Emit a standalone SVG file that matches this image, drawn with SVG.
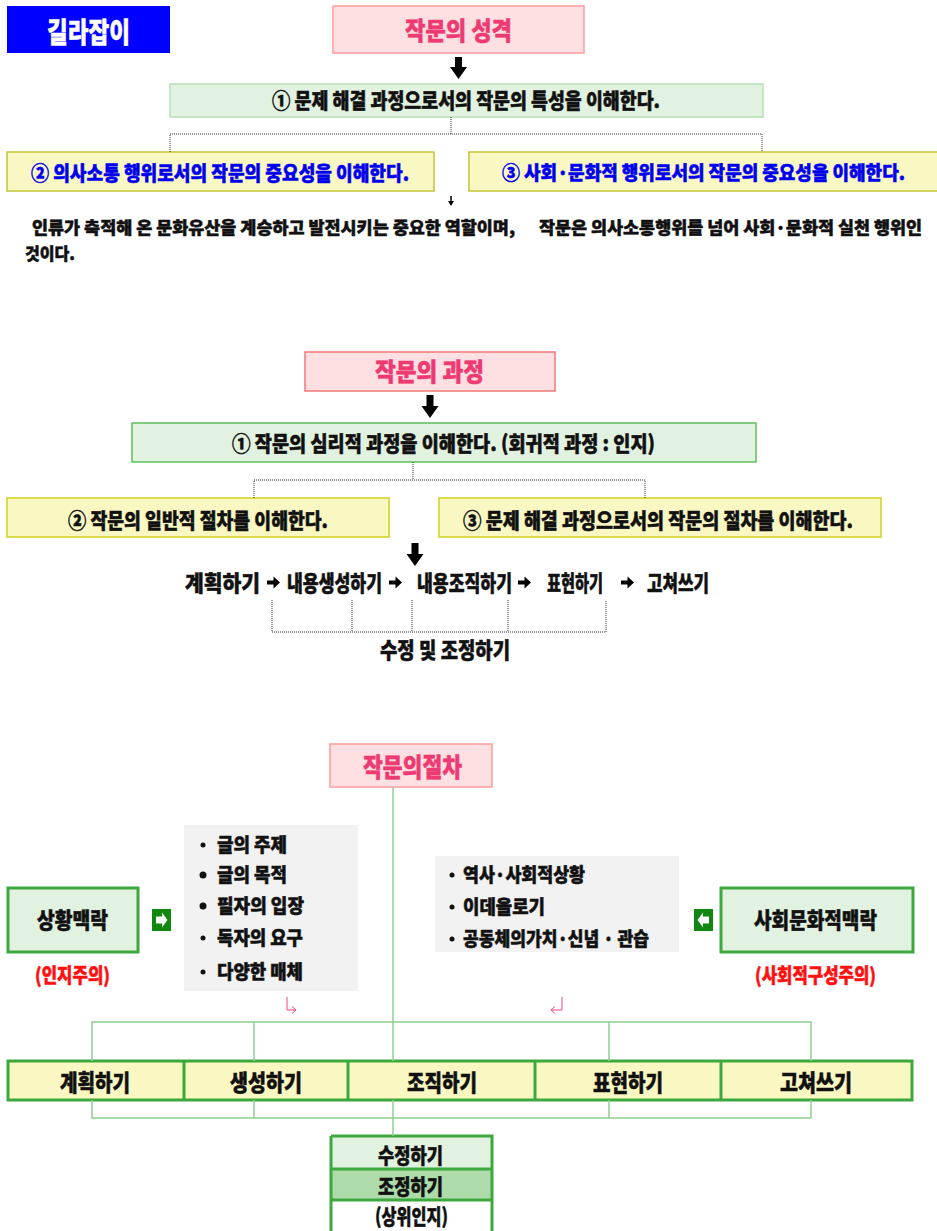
<svg xmlns="http://www.w3.org/2000/svg" width="937" height="1231" viewBox="0 0 937 1231">
<defs>
<style>
text{font-family:'Noto Sans CJK KR','Noto Sans',sans-serif;font-weight:900;fill:#111;stroke:#111;stroke-width:0.5}
.pk{fill:#EE3A72;stroke:#EE3A72}
.bl{fill:#0000EE;stroke:#0000EE}
.rd{fill:#FF1010;stroke:#FF1010}
.wh{fill:#fff;stroke:#fff}
.hdr{fill:#FFE0E2;stroke:#FF9C9C;stroke-width:1.5}
.hdr2{fill:#FFE0E2;stroke:#F07878;stroke-width:1.5}
.gbox1{fill:#E2F2E0;stroke:#B5E0B5;stroke-width:1.5}
.gbox2{fill:#E2F2E0;stroke:#5CBF5C;stroke-width:1.5}
.ybox1{fill:#FAF8C2;stroke:#C4C43A;stroke-width:1.5}
.ybox2{fill:#FAF8C2;stroke:#D2D21E;stroke-width:1.5}
.gthick{stroke:#3DA83D;stroke-width:3}
.dot{fill:none;stroke:#333;stroke-width:1;stroke-dasharray:1 1}
.gl{fill:none;stroke:#8FD08F;stroke-width:1.5}
.pkl{fill:none;stroke:#FF4080;stroke-width:1}
.gray{fill:#F2F2F2}
</style>
</defs>

<g id="guide">
<rect x="7" y="6" width="163" height="47" fill="#0000FF"/>
<text class="wh" x="47" y="43" font-size="28" textLength="83" lengthAdjust="spacingAndGlyphs">길라잡이</text>
</g>

<g id="nature-title">
<rect class="hdr" x="333" y="6" width="251" height="47"/>
<text class="pk" x="405" y="40" font-size="25" textLength="107" lengthAdjust="spacingAndGlyphs">작문의 성격</text>
</g>
<g id="nature-1">
<rect class="gbox1" x="170" y="84" width="593" height="33"/>
<text x="272" y="108" font-size="21" textLength="388" lengthAdjust="spacingAndGlyphs">① 문제 해결 과정으로서의 작문의 특성을 이해한다.</text>
</g>
<g id="nature-2">
<rect class="ybox1" x="7" y="152" width="427" height="39"/>
<text class="bl" x="31" y="181" font-size="20" textLength="378" lengthAdjust="spacingAndGlyphs">② 의사소통 행위로서의 작문의 중요성을 이해한다.</text>
</g>
<g id="nature-3">
<rect class="ybox1" x="469" y="152" width="480" height="39"/>
<text class="bl" x="502" y="180" font-size="19" textLength="403" lengthAdjust="spacingAndGlyphs">③ 사회·문화적 행위로서의 작문의 중요성을 이해한다.</text>
</g>
<g id="nature-text">
<text x="32" y="234" font-size="17" textLength="483" lengthAdjust="spacingAndGlyphs">인류가 축적해 온 문화유산을 계승하고 발전시키는 중요한 역할이며,</text>
<text x="539" y="234" font-size="17" textLength="383" lengthAdjust="spacingAndGlyphs">작문은 의사소통행위를 넘어 사회·문화적 실천 행위인</text>
<text x="25" y="260" font-size="17" textLength="50" lengthAdjust="spacingAndGlyphs">것이다.</text>
</g>

<g id="process-title">
<rect class="hdr2" x="305" y="352" width="250" height="39"/>
<text class="pk" x="375" y="381" font-size="25" textLength="109" lengthAdjust="spacingAndGlyphs">작문의 과정</text>
</g>
<g id="process-1">
<rect class="gbox2" x="132" y="423" width="624" height="39"/>
<text x="232" y="451" font-size="21" textLength="423" lengthAdjust="spacingAndGlyphs">① 작문의 심리적 과정을 이해한다. (회귀적 과정 : 인지)</text>
</g>
<g id="process-2">
<rect class="ybox2" x="7" y="498" width="382" height="39"/>
<text x="68" y="528" font-size="21" textLength="260" lengthAdjust="spacingAndGlyphs">② 작문의 일반적 절차를 이해한다.</text>
</g>
<g id="process-3">
<rect class="ybox2" x="439" y="498" width="442" height="39"/>
<text x="463" y="528" font-size="21" textLength="390" lengthAdjust="spacingAndGlyphs">③ 문제 해결 과정으로서의 작문의 절차를 이해한다.</text>
</g>
<g id="process-steps">
<text x="185" y="591" font-size="22" textLength="75" lengthAdjust="spacingAndGlyphs">계획하기</text>
<text x="287" y="591" font-size="22" textLength="95" lengthAdjust="spacingAndGlyphs">내용생성하기</text>
<text x="417" y="591" font-size="22" textLength="95" lengthAdjust="spacingAndGlyphs">내용조직하기</text>
<text x="547" y="591" font-size="22" textLength="56" lengthAdjust="spacingAndGlyphs">표현하기</text>
<text x="647" y="591" font-size="22" textLength="62" lengthAdjust="spacingAndGlyphs">고쳐쓰기</text>
</g>
<g id="process-revise">
<text x="380" y="658" font-size="22" textLength="130" lengthAdjust="spacingAndGlyphs">수정 및 조정하기</text>
</g>

<g id="procedure-title">
<rect class="hdr" x="330" y="744" width="162" height="43"/>
<text class="pk" x="363" y="777" font-size="26" textLength="99" lengthAdjust="spacingAndGlyphs">작문의절차</text>
</g>
<g id="situation">
<rect x="8" y="888" width="130" height="64" fill="#E2F2E0" class="gthick"/>
<text x="37" y="928" font-size="22" textLength="71" lengthAdjust="spacingAndGlyphs">상황맥락</text>
<text class="rd" x="35" y="983" font-size="20" textLength="75" lengthAdjust="spacingAndGlyphs">(인지주의)</text>
</g>
<g id="situation-list">
<rect class="gray" x="184" y="825" width="174" height="166"/>
<circle cx="203" cy="845" r="2.5" fill="#111"/>
<circle cx="203" cy="875" r="3.5" fill="#111"/>
<circle cx="203" cy="906" r="3.5" fill="#111"/>
<circle cx="203" cy="938" r="2.5" fill="#111"/>
<circle cx="203" cy="972" r="2.5" fill="#111"/>
<text x="217" y="852" font-size="19" textLength="70" lengthAdjust="spacingAndGlyphs">글의 주제</text>
<text x="217" y="882" font-size="19" textLength="70" lengthAdjust="spacingAndGlyphs">글의 목적</text>
<text x="217" y="913" font-size="19" textLength="87" lengthAdjust="spacingAndGlyphs">필자의 입장</text>
<text x="217" y="945" font-size="19" textLength="86" lengthAdjust="spacingAndGlyphs">독자의 요구</text>
<text x="217" y="979" font-size="19" textLength="86" lengthAdjust="spacingAndGlyphs">다양한 매체</text>
</g>
<g id="social-list">
<rect class="gray" x="435" y="856" width="244" height="96"/>
<circle cx="452" cy="875" r="2.5" fill="#111"/>
<circle cx="452" cy="907" r="2.5" fill="#111"/>
<circle cx="452" cy="939" r="2.5" fill="#111"/>
<text x="463" y="882" font-size="19" textLength="122" lengthAdjust="spacingAndGlyphs">역사·사회적상황</text>
<text x="463" y="914" font-size="19" textLength="82" lengthAdjust="spacingAndGlyphs">이데올로기</text>
<text x="463" y="946" font-size="19" textLength="186" lengthAdjust="spacingAndGlyphs">공동체의가치·신념 · 관습</text>
</g>
<g id="social">
<rect x="721" y="888" width="192" height="64" fill="#E2F2E0" class="gthick"/>
<text x="754" y="928" font-size="22" textLength="123" lengthAdjust="spacingAndGlyphs">사회문화적맥락</text>
<text class="rd" x="755" y="983" font-size="20" textLength="121" lengthAdjust="spacingAndGlyphs">(사회적구성주의)</text>
</g>
<g id="stages">
<rect x="8" y="1061" width="904" height="39" fill="#FAF8C2" class="gthick"/>
<line x1="184" y1="1061" x2="184" y2="1100" class="gthick"/>
<line x1="348" y1="1061" x2="348" y2="1100" class="gthick"/>
<line x1="535" y1="1061" x2="535" y2="1100" class="gthick"/>
<line x1="721" y1="1061" x2="721" y2="1100" class="gthick"/>
<text x="60" y="1091" font-size="23" textLength="70" lengthAdjust="spacingAndGlyphs">계획하기</text>
<text x="230" y="1091" font-size="23" textLength="72" lengthAdjust="spacingAndGlyphs">생성하기</text>
<text x="407" y="1091" font-size="23" textLength="70" lengthAdjust="spacingAndGlyphs">조직하기</text>
<text x="593" y="1091" font-size="23" textLength="70" lengthAdjust="spacingAndGlyphs">표현하기</text>
<text x="780" y="1091" font-size="23" textLength="72" lengthAdjust="spacingAndGlyphs">고쳐쓰기</text>
</g>
<g id="metacognition">
<rect x="331" y="1136" width="161" height="33" fill="#E2F2E0"/>
<rect x="331" y="1169" width="161" height="31" fill="#ADDBAA"/>
<rect x="331" y="1200" width="161" height="31" fill="#fff"/>
<path d="M331 1136H492V1233M331 1136V1233M331 1169H492M331 1200H492" fill="none" class="gthick"/>
<text x="378" y="1163" font-size="21" textLength="65" lengthAdjust="spacingAndGlyphs">수정하기</text>
<text x="378" y="1194" font-size="21" textLength="65" lengthAdjust="spacingAndGlyphs">조정하기</text>
<text x="375" y="1224" font-size="21" textLength="73" lengthAdjust="spacingAndGlyphs">(상위인지)</text>
</g>

<g id="connectors">
<path d="M455 57h7v10h5l-8.5 12l-8.5-12h5z" fill="#000"/>
<path d="M451 117V134M170 152V134H762V152" class="dot"/>
<path d="M451 196v6" stroke="#000" stroke-width="1.5"/>
<path d="M448 201h6l-3 5z" fill="#000"/>
<path d="M426.5 395h7v11h5l-8.5 12l-8.5-12h5z" fill="#000"/>
<path d="M413 462V480M254 498V480H645V498" class="dot"/>
<path d="M411.5 543h7v11h5l-8.5 12l-8.5-12h5z" fill="#000"/>
<path d="M267 580.5h6.5v-4l6.5 6l-6.5 6v-4h-6.5z" fill="#000"/>
<path d="M389 580.5h6.5v-4l6.5 6l-6.5 6v-4h-6.5z" fill="#000"/>
<path d="M518 580.5h6.5v-4l6.5 6l-6.5 6v-4h-6.5z" fill="#000"/>
<path d="M621 580.5h6.5v-4l6.5 6l-6.5 6v-4h-6.5z" fill="#000"/>
<path d="M272 600V632H606V600M352 600V632M412 600V632M508 600V632" class="dot"/>
<line x1="393" y1="787" x2="393" y2="1061" class="gl"/>
<line x1="393" y1="1100" x2="393" y2="1136" class="gl"/>
<path d="M92 1061V1022H811V1061M254 1022V1061M609 1022V1061" class="gl"/>
<path d="M92 1100V1118H811V1100M254 1100V1118M609 1100V1118" class="gl"/>
<rect x="152" y="909" width="19" height="22" fill="#108810"/>
<path d="M156 916.5h6v-4l5.5 7.5l-5.5 7.5v-4h-6z" fill="#fff"/>
<rect x="694" y="909" width="19" height="22" fill="#108810"/>
<path d="M709 916.5h-6v-4l-5.5 7.5l5.5 7.5v-4h6z" fill="#fff"/>
<path d="M287 997V1010H296M292 1006.5l4 3.5l-4 3.5" class="pkl"/>
<path d="M562 997V1010H551M555 1006.5l-4 3.5l4 3.5" class="pkl"/>
</g>
</svg>
